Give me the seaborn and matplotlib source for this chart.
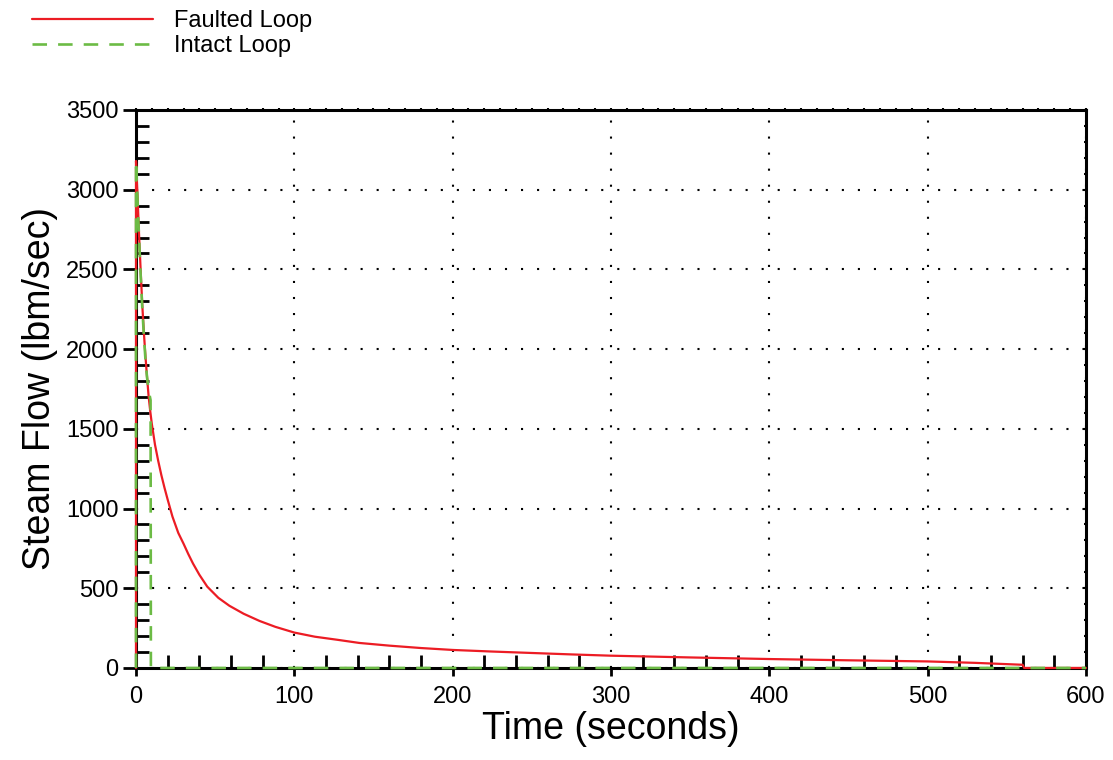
import matplotlib
matplotlib.use("Agg")
import matplotlib.pyplot as plt
from matplotlib.ticker import MultipleLocator
import pandas as pd
import seaborn as sns

# Steam flow from each steam generator loop after the break (lbm/sec vs seconds)
faulted_time = [0, 0, 1, 2, 3, 4, 5, 6, 7, 8, 9, 10, 12, 14, 16, 18, 20, 23,
                26.7, 30, 33, 36, 40, 45, 52, 59, 68, 78, 88, 100, 113, 127,
                141, 160, 180, 200, 225, 250, 275, 300, 350, 400, 450, 500,
                530, 560, 561, 600]
faulted_flow = [0, 3180, 2950, 2700, 2480, 2270, 2100, 1950, 1820, 1700, 1610,
                1530, 1400, 1300, 1210, 1130, 1056, 950, 847, 780, 715, 655,
                585, 510, 440, 390, 340, 295, 258, 222, 196, 177, 157, 140,
                125, 113, 103, 94, 85, 77, 66, 56, 48, 41, 32, 20, 0, 0]

intact_time = [0, 0, 1, 2, 3, 4, 5, 6, 7, 8, 9.2, 9.4, 600]
intact_flow = [0, 3180, 2930, 2680, 2450, 2250, 2080, 1930, 1820, 1740, 1680, 0, 0]

x_ticks = [0, 100, 200, 300, 400, 500, 600]
y_ticks = [0, 500, 1000, 1500, 2000, 2500, 3000, 3500]

series_names = ["Faulted Loop", "Intact Loop"]
x_label = "Time (seconds)"
y_label = "Steam Flow (lbm/sec)"

sns.set_style("white")
plt.rcParams["font.family"] = ["Liberation Sans", "DejaVu Sans"]
plt.rcParams.update({
    "text.color": "black",
    "axes.labelcolor": "black",
    "xtick.color": "black",
    "ytick.color": "black",
})

faulted = pd.DataFrame({"time": faulted_time, "flow": faulted_flow})
intact = pd.DataFrame({"time": intact_time, "flow": intact_flow})

fig = plt.figure(figsize=(11.13, 7.6), dpi=100)
ax = fig.add_axes([0.1222, 0.1211, 0.8535, 0.7342])

red = "#ec1c24"
green = "#6cbb45"

sns.lineplot(data=faulted, x="time", y="flow", ax=ax, estimator=None, sort=False,
             color=red, linewidth=1.6, label=series_names[0], zorder=3)
sns.lineplot(data=intact, x="time", y="flow", ax=ax, estimator=None, sort=False,
             color=green, linewidth=1.9, label=series_names[1], zorder=4)
ax.lines[1].set_dashes((5.5, 4.2))
for line in ax.lines[:2]:
    line.set_clip_on(False)

ax.set_xlim(x_ticks[0], x_ticks[-1])
ax.set_ylim(y_ticks[0], y_ticks[-1])
ax.set_xticks(x_ticks)
ax.set_yticks(y_ticks)
ax.xaxis.set_minor_locator(MultipleLocator(20))
ax.yaxis.set_minor_locator(MultipleLocator(100))

# dotted grid at the major ticks
ax.grid(True, which="major", color="black", linestyle=(0, (1, 6.7)), linewidth=1.5)
ax.set_axisbelow(True)

for side in ["left", "right", "top", "bottom"]:
    ax.spines[side].set_visible(True)
    ax.spines[side].set_color("black")
    ax.spines[side].set_linewidth(2.2)

ax.tick_params(axis="both", which="major", direction="out", length=9.5, width=2,
               color="black", labelsize=17, bottom=True, left=True,
               top=False, right=False)
ax.tick_params(axis="x", which="major", length=6, pad=7)
ax.tick_params(axis="y", which="major", pad=3)
ax.tick_params(axis="both", which="minor", direction="in", length=9.5, width=2,
               color="black", bottom=True, left=True, top=False, right=False)

# short ticks along the top and right frame
ax_top = ax.secondary_xaxis("top")
ax_top.xaxis.set_major_locator(MultipleLocator(10))
ax_top.tick_params(direction="inout", length=3, width=1.5, top=True,
                   labeltop=False)
ax_top.spines["top"].set_visible(False)
ax_right = ax.secondary_yaxis("right")
ax_right.yaxis.set_major_locator(MultipleLocator(100))
ax_right.tick_params(direction="inout", length=3, width=1.5, right=True,
                     labelright=False)
ax_right.spines["right"].set_visible(False)

ax.set_xlabel(x_label, fontsize=27, labelpad=2)
ax.set_ylabel(y_label, fontsize=27, labelpad=6)

ax.get_legend().remove()
handles = ax.lines[:2]
fig.legend(handles, series_names, loc="upper left", bbox_to_anchor=(0.014, 1.008),
           frameon=False, fontsize=17, handlelength=5.1, handletextpad=0.9,
           labelspacing=0.12, borderpad=0.2)

fig.savefig("out.png", dpi=100)
